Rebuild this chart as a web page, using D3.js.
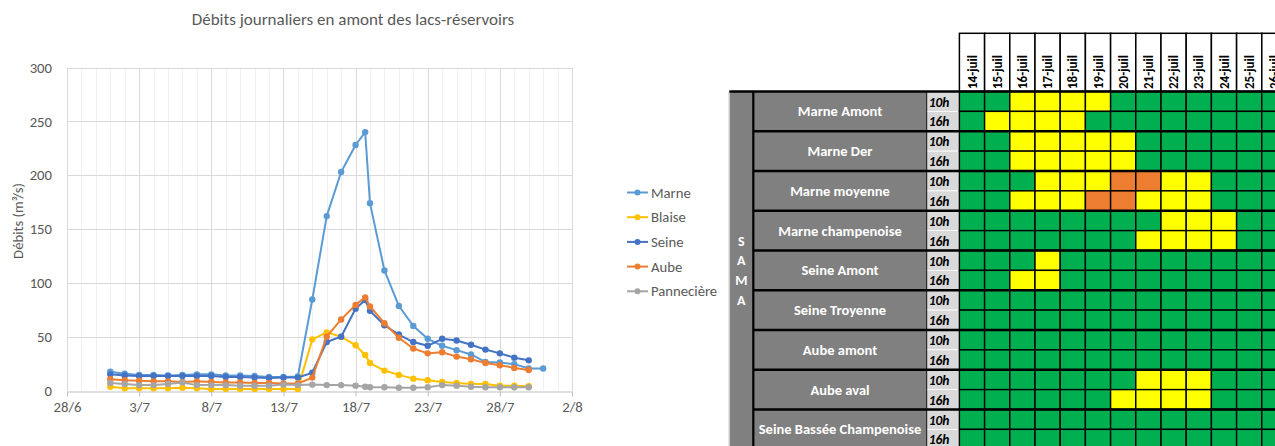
<!DOCTYPE html>
<html>
<head>
<meta charset="utf-8">
<script src="https://cdn.jsdelivr.net/npm/d3@7"></script>
<style>
  body { margin: 0; background: #fff; }
  text { font-family: Carlito, Calibri, "Open Sans", sans-serif; }
  .tab text { font-family: Carlito, Calibri, Lato, sans-serif; }
</style>
</head>
<body>
<div id="viz"></div>
<script>
var WIDTH = 1275
var HEIGHT = 446

// ---- graphique des débits (m3/s)
var dates = ['2021-07-01', '2021-07-02', '2021-07-03', '2021-07-04', '2021-07-05', '2021-07-06', '2021-07-07',
    '2021-07-08', '2021-07-09', '2021-07-10', '2021-07-11', '2021-07-12', '2021-07-13', '2021-07-14',
    '2021-07-15', '2021-07-16', '2021-07-17', '2021-07-18', '2021-07-18 16:00', '2021-07-19', '2021-07-20',
    '2021-07-21', '2021-07-22', '2021-07-23', '2021-07-24', '2021-07-25', '2021-07-26', '2021-07-27',
    '2021-07-28', '2021-07-29', '2021-07-30', '2021-07-31'];

var marne = [17.5, 15.5, 14.5, 14.5, 14, 14.5, 15, 15, 14, 14, 13.5, 12.5, 12.5, 13,
    84.5, 162, 203, 228, 240, 174, 111.5, 78.5, 60, 48, 41.5, 37.5, 33.5, 26.5, 26, 24.5, 20.5, 20.5];
var blaise = [3.5, 2, 2, 2, 2, 2.5, 2, 1.5, 1.5, 1.5, 1.5, 1.5, 1.5, 1.5,
    47.5, 54, 50, 42, 33, 25.5, 18.5, 14.5, 11, 9.5, 8, 7, 6, 6, 4.5, 4.5, 4, null];
var seine = [15, 14, 13.5, 13.5, 13.5, 13.5, 13.5, 13.5, 12.5, 12.5, 12, 11.5, 12, 12,
    16.5, 45, 50, 76, 84, 74, 60.5, 52, 45, 41.5, 48, 46.5, 42.5, 38, 34.5, 30.5, 28, null];
var aube = [10.5, 9.5, 9, 8.5, 8.5, 8, 8.5, 8, 7.5, 7.5, 7, 7, 6.5, 6.5,
    12, 50, 66, 79.5, 86.5, 78, 62.5, 49, 39, 34.5, 35.5, 31.5, 29, 25.5, 23.5, 21, 19, null];
var panneciere = [7, 6, 5, 5, 6, 7.5, 5, 5, 5, 4.5, 4.5, 4.5, 5.5, 5,
    5.5, 5, 5, 4.5, 3.5, 3, 3, 2.5, 2.5, 3, 5, 4.5, 3.5, 3, 3, 3, 3, null];

var seriesNames = ['Marne', 'Blaise', 'Seine', 'Aube', 'Pannecière'];
var seriesColors = ['#5b9bd5', '#ffc000', '#4472c4', '#ed7d31', '#a5a5a5'];
var yTicks = [0, 50, 100, 150, 200, 250, 300];
var xStart = '2021-06-28', xEnd = '2021-08-02';

// ---- tableau de vigilance
var jours = ['14-juil', '15-juil', '16-juil', '17-juil', '18-juil', '19-juil', '20-juil',
    '21-juil', '22-juil', '23-juil', '24-juil', '25-juil', '26-juil'];
var secteurs = ['Marne Amont', 'Marne Der', 'Marne moyenne', 'Marne champenoise', 'Seine Amont',
    'Seine Troyenne', 'Aube amont', 'Aube aval', 'Seine Bassée Champenoise'];
var heures = ['10h', '16h'];
var sama = ['S', 'A', 'M', 'A'];
// 0 = vert, 1 = jaune, 2 = orange ; un caractère par jour (14 -> 26 juil)
var vigilance = [
    ['0011110000000', '0111100000000'],
    ['0011111000000', '0011111000000'],
    ['0001112211000', '0011122111000'],
    ['0000000011100', '0000000111100'],
    ['0001000000000', '0011000000000'],
    ['0000000000000', '0000000000000'],
    ['0000000000000', '0000000000000'],
    ['0000000111000', '0000001111000'],
    ['0000000000000', '0000000000000']
];
var vigiColors = ['#00b050', '#ffff00', '#ed7d31'];

var parseDate = function (s) {
    return d3.timeParse('%Y-%m-%d %H:%M')(s.length > 10 ? s : s + ' 00:00');
};

const svg = d3.select('#viz').append('svg')
    .attr('width', WIDTH)
    .attr('height', HEIGHT);

// ================= line chart =================
var d0 = parseDate(xStart), d1 = parseDate(xEnd);
var x = d3.scaleTime().domain([d0, d1]).range([67, 572]);
var y = d3.scaleLinear().domain([0, 300]).range([390.5, 67.5]);

var chart = svg.append('g');

// vertical grid (every day, darker every 5 days)
var allDays = d3.timeDay.range(d0, d3.timeDay.offset(d1, 1));
chart.selectAll('.vgrid')
    .data(allDays)
    .enter()
    .append('line')
    .attr('x1', d => Math.round(x(d)) + 0.5)
    .attr('x2', d => Math.round(x(d)) + 0.5)
    .attr('y1', y(300))
    .attr('y2', y(0))
    .attr('stroke', d => d3.timeDay.count(d0, d) % 5 === 0 ? '#d9d9d9' : '#f0f0f0')
    .attr('stroke-width', 1);

// horizontal grid
chart.selectAll('.hgrid')
    .data(yTicks.filter(v => v > 0))
    .enter()
    .append('line')
    .attr('x1', x(d0))
    .attr('x2', x(d1))
    .attr('y1', d => Math.round(y(d)) + 0.5)
    .attr('y2', d => Math.round(y(d)) + 0.5)
    .attr('stroke', '#d9d9d9');

// x axis
var xAxis = d3.axisBottom(x)
    .tickValues(d3.timeDay.range(d0, d3.timeDay.offset(d1, 1), 5))
    .tickFormat(d3.timeFormat('%-d/%-m'))
    .tickSize(5)
    .tickSizeOuter(0)
    .tickPadding(5);
var gx = chart.append('g')
    .attr('transform', 'translate(0,' + (Math.round(y(0)) + 0.5) + ')')
    .call(xAxis);
gx.select('.domain').attr('stroke', '#bfbfbf');
gx.selectAll('.tick line').attr('stroke', '#bfbfbf');
gx.selectAll('.tick text').attr('fill', '#595959').style('font-size', '14.7px');

// y axis
var yAxis = d3.axisLeft(y).tickValues(yTicks).tickSize(0).tickPadding(15);
var gy = chart.append('g')
    .attr('transform', 'translate(' + x(d0) + ',0)')
    .call(yAxis);
gy.select('.domain').remove();
gy.selectAll('.tick text').attr('fill', '#595959').style('font-size', '14.7px');

// y label
chart.append('text')
    .attr('transform', 'translate(23,' + 221 + ') rotate(-90)')
    .attr('text-anchor', 'middle')
    .attr('fill', '#595959')
    .style('font-size', '14.7px')
    .text('Débits (m³/s)');

// title
chart.append('text')
    .attr('x', 353)
    .attr('y', 25)
    .attr('text-anchor', 'middle')
    .attr('fill', '#595959')
    .style('font-size', '17px')
    .text('Débits journaliers en amont des lacs-réservoirs');

// series
var seriesData = [marne, blaise, seine, aube, panneciere];
var line = d3.line()
    .defined(d => d.v != null)
    .x(d => x(d.date))
    .y(d => y(d.v));

seriesData.forEach((vals, i) => {
    var pts = dates.map((d, j) => ({ date: parseDate(d), v: vals[j] }));
    var g = chart.append('g');
    g.append('path')
        .datum(pts)
        .attr('d', line)
        .attr('fill', 'none')
        .attr('stroke', seriesColors[i])
        .attr('stroke-width', 2)
        .attr('stroke-linejoin', 'round');
    g.selectAll('circle')
        .data(pts.filter(p => p.v != null))
        .enter()
        .append('circle')
        .attr('cx', p => x(p.date))
        .attr('cy', p => y(p.v))
        .attr('r', 3.2)
        .attr('fill', seriesColors[i]);
});

// legend
var legend = chart.selectAll('.legend')
    .data(seriesNames)
    .enter()
    .append('g')
    .attr('transform', (d, i) => 'translate(627,' + (192.5 + i * 24.7) + ')');
legend.append('line')
    .attr('x1', 0).attr('x2', 21)
    .attr('stroke', (d, i) => seriesColors[i])
    .attr('stroke-width', 2);
legend.append('circle')
    .attr('cx', 10.5).attr('r', 3)
    .attr('fill', (d, i) => seriesColors[i]);
legend.append('text')
    .attr('x', 24)
    .attr('dy', '0.35em')
    .attr('fill', '#595959')
    .style('font-size', '14.7px')
    .text(d => d);

// ================= tableau =================
var tab = svg.append('g').attr('class', 'tab');
var colX = d3.scaleBand().domain(jours).range([959.4, 959.4 + jours.length * 25.2]);
var rowKeys = [];
secteurs.forEach((s, i) => heures.forEach(h => rowKeys.push(i + '|' + h)));
var rowY = d3.scaleBand().domain(rowKeys).range([91.5, 91.5 + rowKeys.length * 19.875]);
var samaX = 729.3, nameX = 753.3, hourX = 926.7;

// header cells
tab.selectAll('.head')
    .data(jours)
    .enter()
    .append('rect')
    .attr('x', d => colX(d))
    .attr('y', 33.3)
    .attr('width', colX.bandwidth())
    .attr('height', 91.5 - 33.3)
    .attr('fill', '#fff')
    .attr('stroke', '#000')
    .attr('stroke-width', 1.5);
tab.selectAll('.headText')
    .data(jours)
    .enter()
    .append('text')
    .attr('transform', d => 'translate(' + (colX(d) + colX.bandwidth() / 2 + 4.5) + ',89) rotate(-90)')
    .attr('fill', '#000')
    .style('font-size', '13px')
    .style('font-weight', 'bold')
    .text(d => d);

// SAMA column
tab.append('rect')
    .attr('x', samaX).attr('y', 91.5)
    .attr('width', nameX - samaX).attr('height', HEIGHT - 91.5)
    .attr('fill', '#808080');
tab.append('line')
    .attr('x1', samaX).attr('x2', samaX)
    .attr('y1', 91.5).attr('y2', HEIGHT)
    .attr('stroke', '#c8c8c8').attr('stroke-width', 1.5);
tab.selectAll('.sama')
    .data(sama)
    .enter()
    .append('text')
    .attr('x', (samaX + nameX) / 2)
    .attr('y', (d, i) => rowY(rowKeys[7 + i]) + rowY.bandwidth() / 2)
    .attr('dy', '0.36em')
    .attr('text-anchor', 'middle')
    .attr('fill', '#fff')
    .style('font-size', '14px')
    .style('font-weight', 'bold')
    .text(d => d);

// sector name cells
secteurs.forEach((s, i) => {
    var top = rowY(i + '|10h');
    var h = rowY.bandwidth() * 2;
    tab.append('rect')
        .attr('x', nameX).attr('y', top)
        .attr('width', hourX - nameX).attr('height', h)
        .attr('fill', '#808080');
    tab.append('text')
        .attr('x', (nameX + hourX) / 2)
        .attr('y', top + h / 2)
        .attr('dy', '0.35em')
        .attr('text-anchor', 'middle')
        .attr('fill', '#fff')
        .style('font-size', '14.5px')
        .style('font-weight', 'bold')
        .text(s);
});

// hour cells
tab.selectAll('.hour')
    .data(rowKeys)
    .enter()
    .append('rect')
    .attr('x', hourX).attr('y', d => rowY(d))
    .attr('width', colX(jours[0]) - hourX).attr('height', rowY.bandwidth())
    .attr('fill', '#d9d9d9')
    .attr('stroke', '#fff')
    .attr('stroke-width', 0.8);
tab.selectAll('.hourText')
    .data(rowKeys)
    .enter()
    .append('text')
    .attr('x', hourX + 2)
    .attr('y', d => rowY(d) + rowY.bandwidth() / 2)
    .attr('dy', '0.38em')
    .attr('fill', '#000')
    .style('font-size', '13.5px')
    .style('font-weight', 'bold')
    .style('font-style', 'italic')
    .text(d => d.split('|')[1]);

// vigilance cells
var cells = [];
vigilance.forEach((pair, i) => {
    pair.forEach((codes, k) => {
        codes.split('').forEach((c, j) => {
            cells.push({ row: i + '|' + heures[k], day: jours[j], code: +c });
        });
    });
});
tab.selectAll('.cell')
    .data(cells)
    .enter()
    .append('rect')
    .attr('x', d => colX(d.day))
    .attr('y', d => rowY(d.row))
    .attr('width', colX.bandwidth())
    .attr('height', rowY.bandwidth())
    .attr('fill', d => vigiColors[d.code])
    .attr('stroke', '#000')
    .attr('stroke-width', 1.4);

// borders
tab.append('line')
    .attr('x1', hourX).attr('x2', hourX)
    .attr('y1', 91.5).attr('y2', HEIGHT)
    .attr('stroke', '#000').attr('stroke-width', 1);
tab.append('line')
    .attr('x1', nameX).attr('x2', nameX)
    .attr('y1', 91.5).attr('y2', HEIGHT)
    .attr('stroke', '#000').attr('stroke-width', 2.2);
tab.selectAll('.sep')
    .data(secteurs)
    .enter()
    .append('line')
    .attr('x1', (d, i) => i === 0 ? samaX : nameX)
    .attr('x2', WIDTH)
    .attr('y1', (d, i) => rowY(i + '|10h'))
    .attr('y2', (d, i) => rowY(i + '|10h'))
    .attr('stroke', '#000')
    .attr('stroke-width', 2.4);
</script>
</body>
</html>
